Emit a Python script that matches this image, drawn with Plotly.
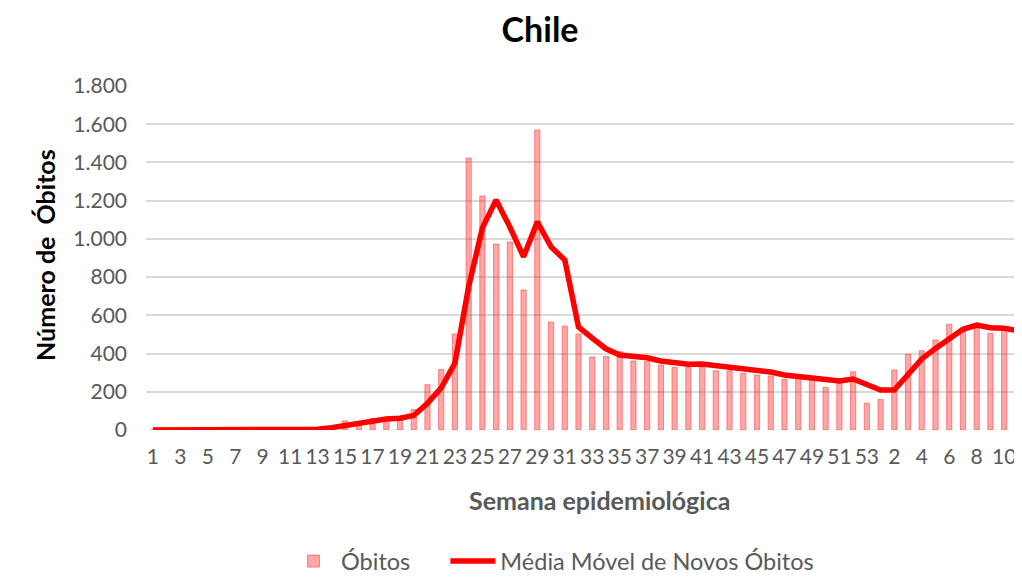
import plotly.graph_objects as go

weeks = list(range(1, 54)) + list(range(1, 13))

obitos = [0, 0, 0, 0, 0, 0, 0, 0, 0, 0, 0, 0, 2, 12, 48, 43, 60, 67, 70, 107,
          237, 317, 502, 1423, 1224, 973, 984, 733, 1570, 565, 544, 502, 382, 384, 410,
          361, 358, 340, 328, 328, 328, 310, 310, 297, 288, 283, 265, 270, 265, 223,
          244, 305, 140,
          160, 314, 396, 415, 471, 553, 520, 532, 506, 532, 515, 600]

media_movel = [0, 0, 0, 0, 0, 0, 0, 0, 0, 0, 0, 0, 4, 12, 24, 38, 50, 58, 62, 76,
               140, 220, 350, 750, 1057, 1204, 1062, 906, 1090, 958, 890, 539, 481, 425, 392,
               387, 378, 361, 349, 344, 345, 338, 328, 317, 310, 303, 288, 279, 276, 265,
               256, 267, 241,
               209, 209, 291, 372, 427, 480, 527, 549, 535, 532, 520, 625]

y_ticks = [0, 200, 400, 600, 800, 1000, 1200, 1400, 1600, 1800]

idx = list(range(len(weeks)))
tick_idx = idx[::2]
tick_txt = [str(weeks[i]) for i in tick_idx]

FONT = "Lato"
GREY = "#595959"

fig = go.Figure()
fig.add_trace(go.Bar(
    x=idx, y=obitos, name="Óbitos\u00a0\u00a0\u00a0\u00a0\u00a0", width=0.38,
    marker=dict(color="rgba(255,0,0,0.35)", line=dict(color="rgba(255,60,60,0.55)", width=1)),
))
fig.add_trace(go.Scatter(
    x=idx, y=media_movel, name="Média Móvel de Novos Óbitos", mode="lines",
    line=dict(color="#FF0000", width=5.5),
))

fig.update_layout(
    width=1014, height=574,
    margin=dict(l=138, r=0, t=78, b=152, autoexpand=False),
    paper_bgcolor="white", plot_bgcolor="white",
    separators=",.",
    font=dict(family=FONT, size=21, color=GREY),
    title=dict(text="<b>Chile</b>", xref="container", x=0.5247, xanchor="center",
               yref="container", y=0.962, yanchor="middle",
               font=dict(family=FONT, size=34, color="black")),
    showlegend=True,
    legend=dict(orientation="h", xref="container", x=0.537, xanchor="center",
                yref="container", y=0.036, yanchor="middle",
                font=dict(family=FONT, size=23.5, color=GREY), itemwidth=45,
                traceorder="normal"),
    xaxis=dict(range=[-0.5, 63.3], tickmode="array", tickvals=tick_idx, ticktext=tick_txt,
               showgrid=False, zeroline=False, showline=False, ticks="", automargin=False,
               tickfont=dict(family=FONT, size=21, color=GREY), ticklabelstandoff=12),
    yaxis=dict(range=[0, 1800], tickmode="array", tickvals=y_ticks, tickformat=",d",
               showgrid=True, gridcolor="#D9D9D9", gridwidth=1.5, zeroline=False,
               showline=False, ticks="", automargin=False,
               tickfont=dict(family=FONT, size=21, color=GREY), ticklabelstandoff=18),
    bargap=0.6,
    annotations=[
        dict(text="<b>Semana epidemiológica</b>", xref="paper", yref="paper",
             x=0.518, y=-0.2035, xanchor="center", yanchor="middle", showarrow=False,
             font=dict(family=FONT, size=25, color=GREY)),
        dict(text="<b>Número de\u00a0 Óbitos</b>", xref="paper", yref="paper",
             x=-0.1153, y=0.509, xanchor="center", yanchor="middle", showarrow=False,
             textangle=-90, font=dict(family=FONT, size=25, color="black")),
    ],
)

fig.write_html("out.html")
